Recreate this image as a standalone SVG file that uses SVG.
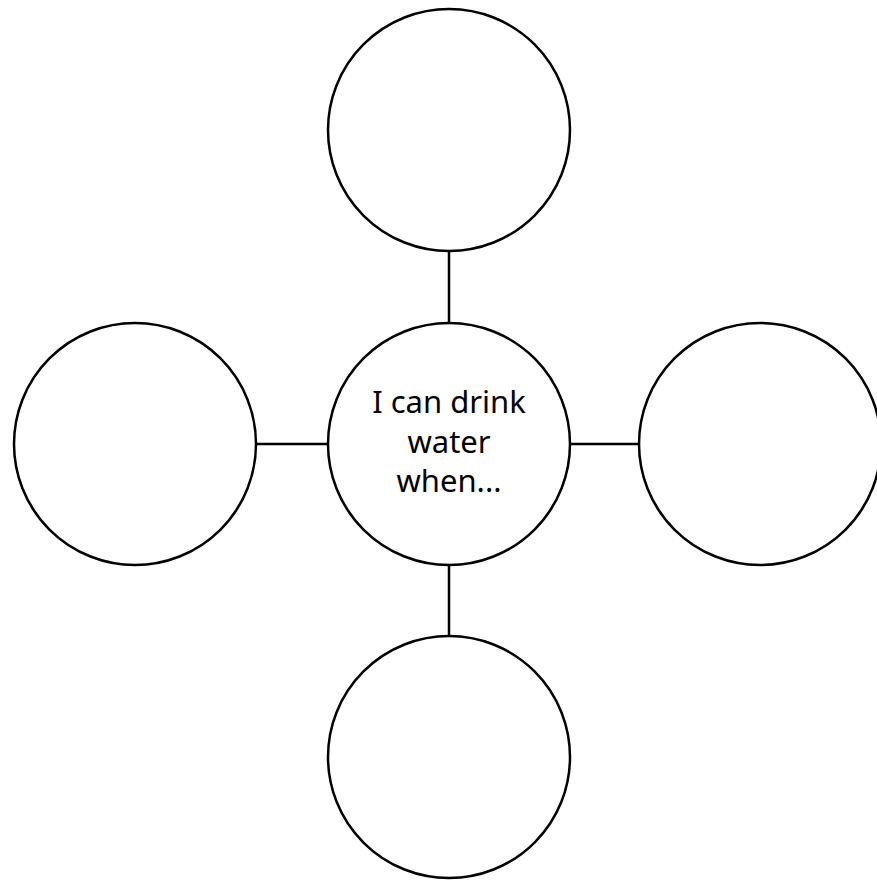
<svg xmlns="http://www.w3.org/2000/svg" width="877" height="880" viewBox="0 0 877 880">
<style>
.node{fill:#fff;stroke:#000;stroke-width:2.5}
.edge{stroke:#000;stroke-width:2.5;fill:none}
.label{font-family:"Noto Sans","Liberation Sans",sans-serif;font-size:31px;fill:#000;text-anchor:middle}
</style>
<rect width="877" height="880" fill="#fff"/>
<g id="connectors">
<line class="edge" x1="449" y1="251" x2="449" y2="323"/>
<line class="edge" x1="449" y1="566" x2="449" y2="637"/>
<line class="edge" x1="256" y1="444" x2="328" y2="444"/>
<line class="edge" x1="570" y1="444" x2="640" y2="444"/>
</g>
<g id="node-top"><circle class="node" cx="449" cy="130" r="121"/></g>
<g id="node-left"><circle class="node" cx="135" cy="444" r="121"/></g>
<g id="node-right"><circle class="node" cx="760" cy="444" r="121"/></g>
<g id="node-bottom"><circle class="node" cx="449" cy="757" r="121"/></g>
<g id="node-center"><circle class="node" cx="449" cy="444" r="121"/>
<text class="label" x="449" y="413">I can drink</text>
<text class="label" x="449" y="453">water</text>
<text class="label" x="449" y="492">when...</text>
</g>
</svg>
